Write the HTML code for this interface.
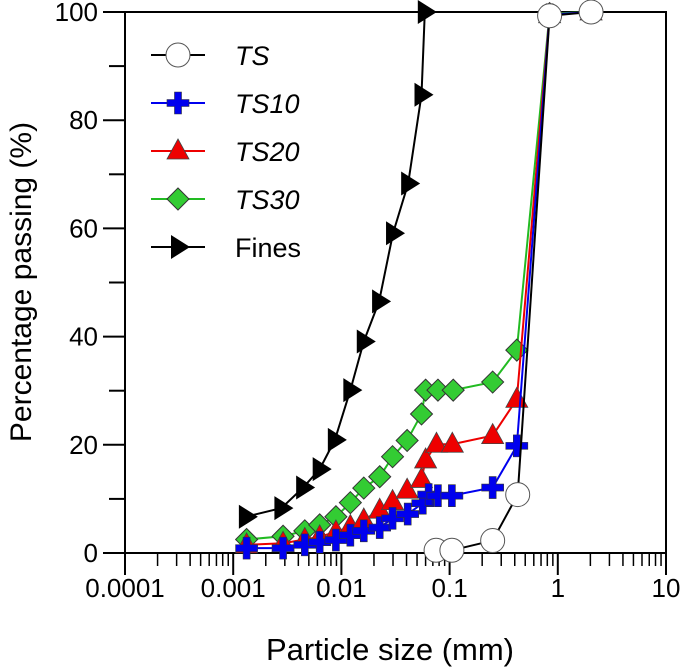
<!DOCTYPE html>
<html><head><meta charset="utf-8"><style>
html,body{margin:0;padding:0;background:#fff;}
svg{display:block;font-family:"Liberation Sans",Arial,sans-serif;}
</style></head><body>
<svg id="chart" width="685" height="671" viewBox="0 0 685 671" xmlns="http://www.w3.org/2000/svg">
<g id="axes"></g><g id="series"></g><g id="legend"></g>
<text x="390" y="660" font-size="31" text-anchor="middle">Particle size (mm)</text>
<text transform="translate(31,282) rotate(-90)" font-size="30" text-anchor="middle">Percentage passing (%)</text>
</svg>
<script>
const xTickLabels = ["0.0001","0.001","0.01","0.1","1","10"];
const yTickLabels = [0,20,40,60,80,100];
const seriesNames = ["TS","TS10","TS20","TS30","Fines"];
const tsX = [0.075,0.105,0.25,0.426,0.84,2.03];
const tsY = [0.5,0.5,2.3,10.8,99.3,100];
const ts10X = [0.00133,0.00289,0.00459,0.0063,0.0089,0.0121,0.0161,0.0226,0.0297,0.041,0.0565,0.064,0.078,0.105,0.25,0.418,0.84,2.03];
const ts10Y = [0.9,0.9,1.5,2.0,2.4,3.3,4.1,4.7,6.4,7.2,9.2,10.8,10.6,10.6,12.1,19.8,99.5,100];
const ts20X = [0.00133,0.00289,0.00459,0.0063,0.0089,0.0121,0.0161,0.0226,0.0297,0.0405,0.055,0.060,0.0757,0.106,0.25,0.418,0.84,2.03];
const ts20Y = [1.5,1.8,2.5,3.0,3.9,4.9,6.1,7.9,9.5,11.6,13.6,17.2,20.1,20.1,21.7,28.4,99.5,100];
const ts30X = [0.00133,0.00289,0.00459,0.0063,0.0089,0.0121,0.0161,0.0226,0.0297,0.0405,0.055,0.060,0.078,0.108,0.25,0.418,0.84,2.03];
const ts30Y = [2.5,3.1,4.1,5.2,6.7,9.3,12.0,14.1,17.8,20.8,25.7,30.1,30.1,30.1,31.6,37.5,99.7,100];
const finesX = [0.00131,0.00279,0.00443,0.0063,0.0087,0.0121,0.0161,0.0223,0.030,0.0414,0.055,0.059];
const finesY = [6.7,8.3,12.1,15.5,20.9,30.1,39.1,46.5,59.1,68.3,84.7,100];

const L=125,R=666,T=12,B=553;
const xs=v=>L+(Math.log10(v)+4)/5*(R-L);
const ys=v=>B-v/100*(B-T);
const NS="http://www.w3.org/2000/svg";
function mk(tag,attrs,parent){const e=document.createElementNS(NS,tag);for(const k in attrs)e.setAttribute(k,attrs[k]);parent.appendChild(e);return e;}
const axes=document.getElementById('axes');
const frame=mk('rect',{x:L,y:T,width:R-L,height:B-T,fill:'none',stroke:'#000','stroke-width':2},axes);


for(let d=-4;d<=1;d++){
  const x=xs(Math.pow(10,d));
  const t=mk('line',{x1:x,x2:x,y1:B,y2:B+22,stroke:'#000','stroke-width':2},axes);
  
  
  if(d<1){for(let m=2;m<=9;m++){const xm=xs(m*Math.pow(10,d));
    const mt=mk('line',{x1:xm,x2:xm,y1:B,y2:B+13,stroke:'#000','stroke-width':1.5},axes);
    
    }}
}
xTickLabels.forEach(s=>{
  const tx=mk('text',{x:xs(parseFloat(s)),y:B+44,'font-size':26,'text-anchor':'middle'},axes);
  tx.textContent=s;
  
  
});
yTickLabels.forEach(v=>{
  const y=ys(v);
  const t=mk('line',{x1:L-22,x2:L,y1:y,y2:y,stroke:'#000','stroke-width':2},axes);
  
  
  if(v<100){const ym=ys(v+10);
    const mt=mk('line',{x1:L-16,x2:L,y1:ym,y2:ym,stroke:'#000','stroke-width':2},axes);
    
    }
  const tx=mk('text',{x:L-27,y:y+9,'font-size':26,'text-anchor':'end'},axes);
  tx.textContent=v;
  
  
});
function marker(type,x,y,parent){
  let e;
  if(type==='circle') e=mk('circle',{cx:x,cy:y,r:12,fill:'#fff',stroke:'#555','stroke-width':1},parent);
  else if(type==='plus') e=mk('path',{d:`M${x-3.5},${y-11}h7v7.5h7.5v7h-7.5v7.5h-7v-7.5h-7.5v-7h7.5z`,fill:'#0000ee',stroke:'#333','stroke-width':0.6},parent);
  else if(type==='tri') e=mk('path',{d:`M${x},${y-12}L${x+11},${y+8}L${x-11},${y+8}Z`,fill:'#ee0000',stroke:'#444','stroke-width':0.8},parent);
  else if(type==='diamond') e=mk('path',{d:`M${x},${y-11}L${x+11},${y}L${x},${y+11}L${x-11},${y}Z`,fill:'#33cc33',stroke:'#333','stroke-width':1},parent);
  else e=mk('path',{d:`M${x-7},${y-12}L${x+12},${y}L${x-7},${y+12}Z`,fill:'#000'},parent);
  return e;
}
const defs=[
 {name:'ts',X:tsX,Y:tsY,color:'#000',m:'circle'},
 {name:'ts10',X:ts10X,Y:ts10Y,color:'#0000ee',m:'plus'},
 {name:'ts20',X:ts20X,Y:ts20Y,color:'#ee0000',m:'tri'},
 {name:'ts30',X:ts30X,Y:ts30Y,color:'#22bb22',m:'diamond'},
 {name:'fines',X:finesX,Y:finesY,color:'#000',m:'rtri'}];
const sg=document.getElementById('series');
defs.slice().reverse().forEach(s=>{
  const g=mk('g',{},sg);
  
  
  const pl=mk('polyline',{points:s.X.map((v,i)=>xs(v)+','+ys(s.Y[i])).join(' '),fill:'none',stroke:s.color,'stroke-width':2},g);
  
  
  s.X.forEach((v,i)=>{const p=marker(s.m,xs(v),ys(s.Y[i]),g);
    
    });
});
const lg=document.getElementById('legend');
const rows=[55,103,151,199,247];
defs.forEach((s,i)=>{
  const g=mk('g',{},lg);
  
  
  mk('line',{x1:151,x2:205,y1:rows[i],y2:rows[i],stroke:s.color,'stroke-width':2},g);
  marker(s.m,178,rows[i],g);
  const t=mk('text',{x:235,y:rows[i]+10,'font-size':27,'font-style':i<4?'italic':'normal'},g);
  t.textContent=seriesNames[i];
});
</script>
</body></html>
